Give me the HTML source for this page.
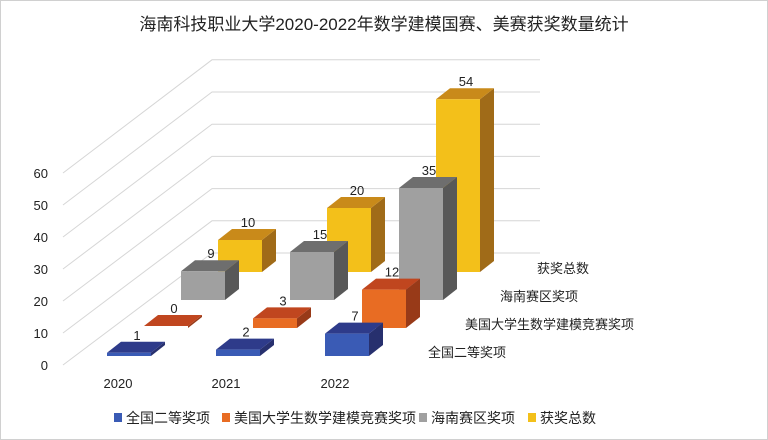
<!DOCTYPE html>
<html><head><meta charset="utf-8"><style>
html,body{margin:0;padding:0;background:#fff}
svg{display:block}
text{font-family:"Liberation Sans","Noto Sans CJK SC",sans-serif;fill:#222}
</style></head><body>
<svg id="s" width="768" height="440" viewBox="0 0 768 440" xmlns="http://www.w3.org/2000/svg">
<rect x="0.5" y="0.5" width="767" height="439" fill="#fff" stroke="#d0d0d0"/>
<text x="384" y="30" font-size="17" text-anchor="middle">海南科技职业大学2020-2022年数学建模国赛、美赛获奖数量统计</text>
<g id="grid" stroke="#d6d6d6" stroke-width="1" fill="none"></g>
<g font-size="13" text-anchor="end">
<text x="48" y="370">0</text><text x="48" y="338">10</text><text x="48" y="306">20</text>
<text x="48" y="274">30</text><text x="48" y="242">40</text><text x="48" y="210">50</text><text x="48" y="178">60</text>
</g>
<g id="bars"></g>
<g font-size="13" text-anchor="middle">
<text x="118" y="388">2020</text><text x="226" y="388">2021</text><text x="335" y="388">2022</text>
</g>
<g font-size="13">
<text x="537" y="273">获奖总数</text>
<text x="500" y="301">海南赛区奖项</text>
<text x="465" y="329">美国大学生数学建模竞赛奖项</text>
<text x="428" y="357">全国二等奖项</text>
</g>
<g font-size="14">
<rect x="114" y="413" width="8" height="9" fill="#3a5bb5"/><text x="126" y="423">全国二等奖项</text>
<rect x="222" y="413" width="8" height="9" fill="#e86c23"/><text x="234" y="423">美国大学生数学建模竞赛奖项</text>
<rect x="419" y="413" width="8" height="9" fill="#a0a0a0"/><text x="431" y="423">海南赛区奖项</text>
<rect x="528" y="413" width="8" height="9" fill="#f3c01a"/><text x="540" y="423">获奖总数</text>
</g>
<g id="labels" font-size="13" text-anchor="middle"></g>
</svg>
<script>
var NS="http://www.w3.org/2000/svg";
var g=document.getElementById('grid');
for(var i=0;i<=6;i++){
 var yf=365-i*32,yb=253-i*32.2;
 var p=document.createElementNS(NS,'path');
 p.setAttribute('d','M63 '+yf+' L212 '+yb+' L540 '+yb);
 g.appendChild(p);
}
var data=[[1,2,7],[0,3,12],[9,15,35],[10,20,54]];
var col=[["#3a5bb5","#2e3b8a","#27306e"],["#e86c23","#c0461f","#983a18"],["#a0a0a0","#6e6e6e","#585858"],["#f3c01a","#c98a1a","#a06b18"]];
var bars=document.getElementById('bars'),lab=document.getElementById('labels');
function poly(pts,f){var p=document.createElementNS(NS,'polygon');p.setAttribute('points',pts.map(function(a){return a.join(',')}).join(' '));p.setAttribute('fill',f);bars.appendChild(p);}
for(var r=3;r>=0;r--){for(var c=0;c<3;c++){
 var v=data[r][c],x=107+109*c+37*r,b=356-28*r,h=Math.max(3.2*v,2),t=b-h,w=44,dx=14,dy=-11;
 poly([[x+w,b],[x+w+dx,b+dy],[x+w+dx,t+dy],[x+w,t]],col[r][2]);
 poly([[x,t],[x+dx,t+dy],[x+w+dx,t+dy],[x+w,t]],col[r][1]);
 if(v>0)poly([[x,b],[x+w,b],[x+w,t],[x,t]],col[r][0]);
 var tx=document.createElementNS(NS,'text');tx.setAttribute('x',x+w/2+8);tx.setAttribute('y',t+dy-2);tx.textContent=v;lab.appendChild(tx);
}}
</script>
</body></html>
